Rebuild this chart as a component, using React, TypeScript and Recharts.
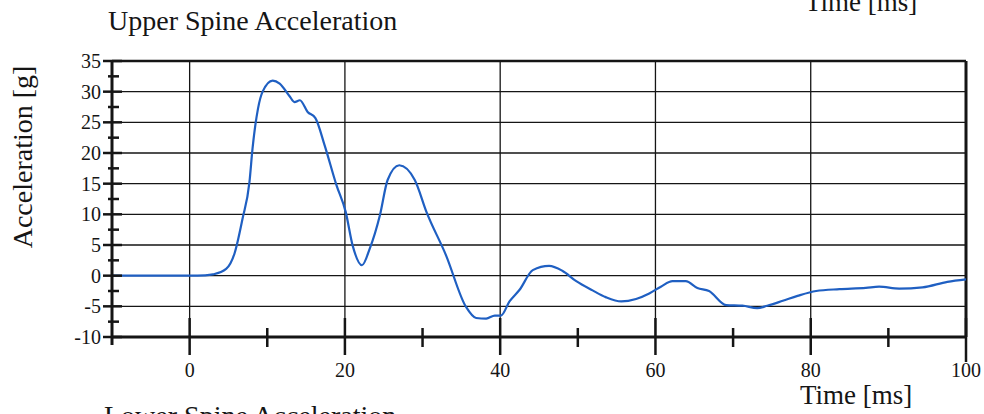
import { LineChart, Line, XAxis, YAxis, ReferenceLine } from "recharts";

// time [ms] and upper spine acceleration [g]
const times = [
  -10, -5, 0, 2, 3, 4.7, 5.8, 6.8, 7.7, 8.1, 8.8, 9.4, 10.7, 11.6, 12.9, 13.5,
  14.2, 15.2, 16.2, 17.4, 18.9, 20.1, 21, 22.2, 23.2, 24.5, 25.5, 27, 29, 30.5,
  33, 35.6, 36.9, 38.2, 39.3, 40.1, 41.2, 42.5, 44.2, 46.3, 48, 49.8, 51.9,
  53.6, 55.6, 57.5, 59.2, 60.7, 62.2, 63.9, 65.4, 66.9, 69.1, 71.2, 73.1, 74.4,
  76.4, 78.3, 80.7, 83.7, 87.1, 88.8, 91.4, 94.4, 97.6, 100,
];
const accel = [
  0, 0, 0, 0.05, 0.2, 1.1, 3.7, 9.2, 15.2, 20.7, 27.2, 30, 31.8, 31.3, 29.2,
  28.3, 28.6, 26.7, 25.7, 21.2, 14.8, 10.4, 4.9, 1.7, 4.4, 9.8, 15.6, 18, 15.6,
  10.4, 3.4, -5.1, -6.9, -7.0, -6.5, -6.5, -4.2, -2.3, 0.9, 1.6, 0.8, -0.9,
  -2.4, -3.5, -4.2, -3.8, -2.9, -1.8, -0.9, -0.9, -2.0, -2.5, -4.8, -4.9, -5.3,
  -4.9, -4.1, -3.3, -2.5, -2.2, -2.0, -1.8, -2.1, -1.9, -1.0, -0.6,
];

const xTicks = [-10, 0, 10, 20, 30, 40, 50, 60, 70, 80, 90, 100];
const yTicks = [
  -10, -7.5, -5, -2.5, 0, 2.5, 5, 7.5, 10, 12.5, 15, 17.5, 20, 22.5, 25, 27.5,
  30, 32.5, 35,
];
const xGrid = [0, 20, 40, 60, 80];
const yGrid = [-5, 0, 5, 10, 15, 20, 25, 30];

const data = times.map((t, i) => ({ t, g: accel[i] }));

const FONT = '"Liberation Serif", "Times New Roman", serif';
const INK = "#151515";
const labelStyle = { fontFamily: FONT, fontSize: 20, fill: INK };

function XTick(props: any) {
  const { x, y, payload } = props;
  const v = payload.value;
  const major = v % 20 === 0;
  const up = major ? 19 : 9;
  const down = v === 100 ? 25 : major ? 18 : 10;
  return (
    <g>
      {v !== -10 && (
        <line x1={x} x2={x} y1={y - up} y2={y + down} stroke={INK} strokeWidth={2.5} />
      )}
      {v === -10 && <line x1={x} x2={x} y1={y} y2={y + 8} stroke={INK} strokeWidth={3} />}
      {major && (
        <text x={x} y={y + 40} textAnchor="middle" style={labelStyle}>
          {v}
        </text>
      )}
    </g>
  );
}

function YTick(props: any) {
  const { x, y, payload } = props;
  const v = payload.value;
  const major = v % 5 === 0;
  return (
    <g>
      <line
        x1={major ? x - 9 : x - 4}
        x2={major ? x + 10 : x + 7}
        y1={y}
        y2={y}
        stroke={INK}
        strokeWidth={2.5}
      />
      {major && (
        <text x={x - 11} y={y + 7} textAnchor="end" style={labelStyle}>
          {v}
        </text>
      )}
    </g>
  );
}

export default function App() {
  return (
    <div style={{ position: "absolute", left: 0, top: 0, width: 984, height: 414, background: "#fff", overflow: "hidden" }}>
      <LineChart
        width={984}
        height={414}
        data={data}
        margin={{ top: 61, right: 18, left: 52, bottom: 17 }}
      >
        {yGrid.map((v) => (
          <ReferenceLine key={"h" + v} y={v} stroke={INK} strokeWidth={1.3} />
        ))}
        {xGrid.map((v) => (
          <ReferenceLine key={"v" + v} x={v} stroke={INK} strokeWidth={1.3} />
        ))}
        <ReferenceLine y={35} stroke={INK} strokeWidth={2.5} />
        <ReferenceLine x={100} stroke={INK} strokeWidth={3} />
        <XAxis
          dataKey="t"
          type="number"
          domain={[-10, 100]}
          ticks={xTicks}
          interval={0}
          height={60}
          tickSize={0}
          tickMargin={0}
          tickLine={false}
          axisLine={{ stroke: INK, strokeWidth: 3 }}
          tick={XTick}
        />
        <YAxis
          type="number"
          domain={[-10, 35]}
          ticks={yTicks}
          interval={0}
          width={60}
          tickSize={0}
          tickMargin={0}
          tickLine={false}
          axisLine={{ stroke: INK, strokeWidth: 3 }}
          tick={YTick}
        />
        <Line
          type="monotone"
          dataKey="g"
          stroke="#1f5fc2"
          strokeWidth={2.2}
          dot={false}
          isAnimationActive={false}
        />
      </LineChart>
      <svg
        width={984}
        height={414}
        style={{ position: "absolute", left: 0, top: 0, pointerEvents: "none" }}
      >
        <g style={{ fontFamily: FONT, fill: INK }}>
          <text x={108} y={30} fontSize={28}>
            Upper Spine Acceleration
          </text>
          <text x={805} y={11} fontSize={27}>
            Time [ms]
          </text>
          <text x={800} y={404} fontSize={27}>
            Time [ms]
          </text>
          <text x={104} y={425} fontSize={28}>
            Lower Spine Acceleration
          </text>
          <text x={0} y={0} fontSize={28} textAnchor="middle" transform="translate(32,157) rotate(-90)">
            Acceleration [g]
          </text>
        </g>
      </svg>
    </div>
  );
}
